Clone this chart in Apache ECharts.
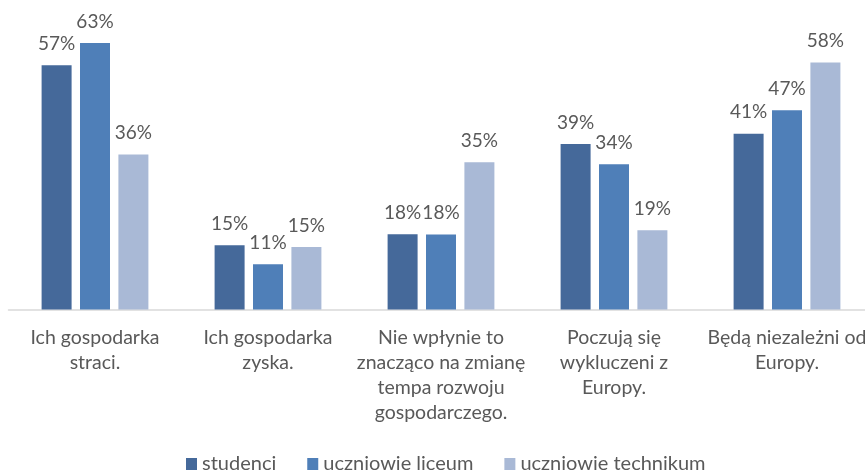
<!DOCTYPE html>
<html>
<head>
<meta charset="utf-8">
<script src="https://cdn.jsdelivr.net/npm/echarts@6/dist/echarts.min.js"></script>
<style>
html, body { margin: 0; padding: 0; background: #fff; }
#chart { width: 865px; height: 473px; }
</style>
</head>
<body>
<div id="chart"></div>
<script>
var kategorie = [
	'Ich gospodarka\nstraci.',
	'Ich gospodarka\nzyska.',
	'Nie wpłynie to\nznacząco na zmianę\ntempa rozwoju\ngospodarczego.',
	'Poczują się\nwykluczeni z\nEuropy.',
	'Będą niezależni od\nEuropy.'
];
var studenci = [57.4, 15.1, 17.7, 38.9, 41.3];
var liceum = [62.6, 10.6, 17.6, 34.1, 46.8];
var technikum = [36.4, 14.7, 34.6, 18.6, 58.0];

var kolory = ['#45699A', '#4F7FB8', '#A9B9D6'];
var czcionka = 'Lato';

function seria(nazwa, dane, kolor) {
	return {
		name : nazwa,
		type : 'bar',
		barWidth : 30,
		barGap : '28%',
		itemStyle : { color : kolor },
		label : {
			show : true,
			position : 'top',
			distance : 12,
			color : '#595959',
			fontFamily : czcionka,
			fontSize : 19,
			formatter : function(p) {
				return Math.round(p.value) + '%';
			}
		},
		data : dane
	};
}

var myChart = echarts.init(document.getElementById('chart'));
myChart.setOption({
	animation : false,
	legend : {
		left : 186,
		top : 454,
		padding : 0,
		itemWidth : 11,
		itemHeight : 12,
		itemGap : 31,
		icon : 'rect',
		textStyle : {
			color : '#595959',
			fontFamily : czcionka,
			fontSize : 20
		},
		data : ['studenci', 'uczniowie liceum', 'uczniowie technikum']
	},
	grid : {
		left : 8.5,
		width : 865,
		top : 11.5,
		height : 298,
		containLabel : false,
		outerBoundsMode : 'none'
	},
	xAxis : {
		type : 'category',
		data : kategorie,
		axisLine : { lineStyle : { color : '#D9D9D9', width : 1.5 } },
		axisTick : { show : false },
		axisLabel : {
			interval : 0,
			margin : 16,
			color : '#595959',
			fontFamily : czcionka,
			fontSize : 19.5,
			lineHeight : 25
		}
	},
	yAxis : {
		type : 'value',
		min : 0,
		max : 70,
		show : false
	},
	series : [
		seria('studenci', studenci, kolory[0]),
		seria('uczniowie liceum', liceum, kolory[1]),
		seria('uczniowie technikum', technikum, kolory[2])
	]
});
</script>
</body>
</html>
